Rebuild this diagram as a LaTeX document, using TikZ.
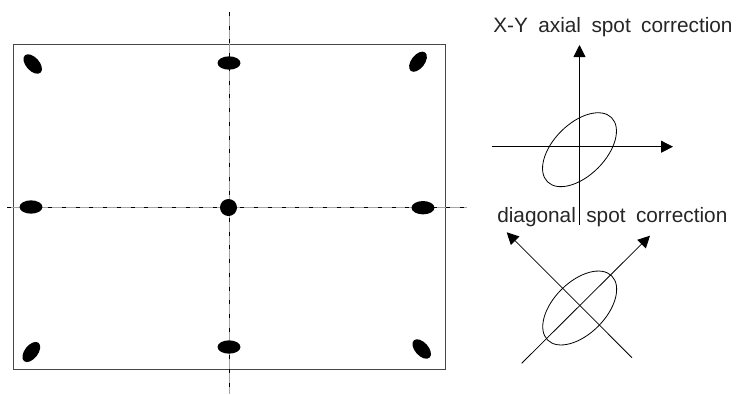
\documentclass[tikz,border=0pt]{standalone}
\usepackage{fontspec}
\setmainfont[WordSpace=1.8]{Liberation Sans}
\usetikzlibrary{arrows.meta,shapes.geometric}
\definecolor{framegray}{RGB}{70,70,70}
\definecolor{axisgray}{RGB}{165,165,165}

\begin{document}
\begin{tikzpicture}[x=0.75pt,y=-0.75pt,
    spot/.style={ellipse,fill=black,inner sep=0pt,minimum width=17.25pt,minimum height=10pt},
    spottilt/.style={ellipse,fill=black,inner sep=0pt,minimum width=17.5pt,minimum height=10pt},
    beam/.style={ellipse,draw=black,line width=0.6pt,inner sep=0pt,minimum width=68pt,minimum height=39pt,rotate=45},
    axis/.style={line width=0.6pt,-{Triangle[length=9pt,width=9pt]}},
    title/.style={anchor=base west,inner sep=0pt,font=\fontsize{15.6}{18}\selectfont,text=black!85}]
  \useasboundingbox (0,0) rectangle (740,394);

  % screen frame and centre lines
  \draw[framegray,line width=0.7pt] (13,44) rectangle (445,369);
  \coordinate (vtop) at (229.5,12);
  \coordinate (vbot) at (229.5,394);
  \coordinate (hleft) at (7,207.5);
  \coordinate (hright) at (467,207.5);
  \draw[axisgray,line width=0.6pt] (vtop)--(vbot);
  \draw[axisgray,line width=0.6pt] (hleft)--(hright);
  \draw[line width=0.6pt,dash pattern=on 3pt off 7.3pt] (vtop)--(vbot);
  \draw[line width=0.6pt,dash pattern=on 3pt off 7.3pt] (hleft)--(hright);

  % spots
  \node[spottilt,rotate=-48] (tl) at (32.7,64) {};
  \node[spot] (tc) at (229,63) {};
  \node[spottilt,rotate=52] (tr) at (418,61.7) {};
  \node[spot] (ml) at (31,207) {};
  \node[circle,fill=black,inner sep=0pt,minimum size=12.75pt] (mc) at (228.5,207.5) {};
  \node[spot] (mr) at (423,207.7) {};
  \node[spottilt,rotate=52] (bl) at (31.3,352) {};
  \node[spot] (bc) at (229,347) {};
  \node[spottilt,rotate=-48] (br) at (421.7,349) {};

  % axial correction
  \node[title] (axialtext) at (493,32) {X-Y axial spot correction};
  \coordinate (ax1) at (579.5,225);
  \coordinate (ax2) at (579.5,45);
  \coordinate (ax3) at (491.7,146.7);
  \coordinate (ax4) at (673,146.7);
  \draw[axis] (ax1)--(ax2);
  \draw[axis] (ax3)--(ax4);
  \node[beam] (axialbeam) at (579.5,149.7) {};

  % diagonal correction
  \node[title] (diagtext) at (497,222) {diagonal spot correction};
  \coordinate (dg1) at (521.7,363.3);
  \coordinate (dg2) at (650,235.7);
  \coordinate (dg3) at (632,357.7);
  \coordinate (dg4) at (506.7,232.3);
  \draw[axis] (dg1)--(dg2);
  \draw[axis] (dg3)--(dg4);
  \node[beam] (diagbeam) at (579.7,308) {};
\end{tikzpicture}
\end{document}
